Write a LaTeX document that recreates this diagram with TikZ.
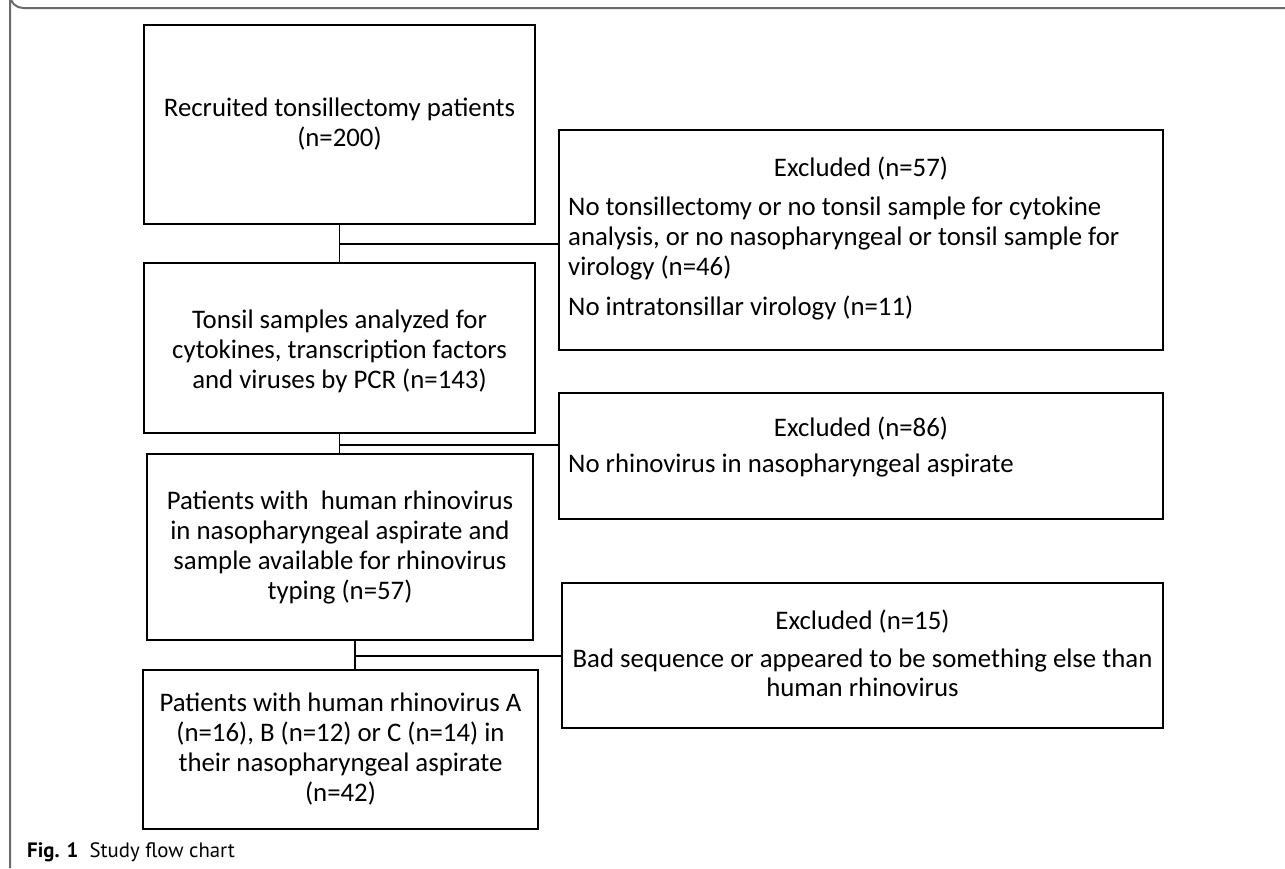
\documentclass[tikz,border=0pt]{standalone}
\usepackage{fontspec}
\setmainfont{Carlito}
\newfontfamily\capfont{PT Sans}
\begin{document}
\begin{tikzpicture}[x=1pt,y=-1pt,
  box/.style={draw=black, line width=1.7pt, inner sep=0pt},
  txt/.style={inner sep=0pt, font=\fontsize{26.8}{30}\selectfont},
  conn/.style={draw=black, line width=1.7pt},
  frame/.style={draw=black!58, line width=2pt}]
\useasboundingbox (0,0) rectangle (1285,868);
% outer frame
\draw[frame] (1285,8) -- (23,8) arc[start angle=90, end angle=180, radius=13] -- (10,868);
% left column boxes
\node[box, minimum width=391pt, minimum height=199pt] (b1) at (339.5,124.5) {};
\node[txt, align=center] at (b1.center) {Recruited tonsillectomy patients\\(n=200)};
\node[box, minimum width=391pt, minimum height=170pt] (b2) at (339.5,348) {};
\node[txt, align=center] at ([yshift=-3pt]b2.center) {Tonsil samples analyzed for\\cytokines, transcription factors\\and viruses by PCR (n=143)};
\node[box, minimum width=386pt, minimum height=186pt] (b3) at (340,547) {};
\node[txt, align=center] at (b3.center) {Patients with\ \ human rhinovirus\\in nasopharyngeal aspirate and\\sample available for rhinovirus\\typing (n=57)};
\node[box, minimum width=395pt, minimum height=159pt] (b4) at (340.5,749.5) {};
\node[txt, align=center] at (b4.center) {Patients with human rhinovirus A\\(n=16), B (n=12) or C (n=14) in\\their nasopharyngeal aspirate\\(n=42)};
% excluded boxes
\node[box, minimum width=604pt, minimum height=220pt] (e1) at (861,240) {};
\node[txt, anchor=base] at (861,176) {Excluded (n=57)};
\node[txt, anchor=base west] at (568,215) {No tonsillectomy or no tonsil sample for cytokine};
\node[txt, anchor=base west] at (568,245) {analysis, or no nasopharyngeal or tonsil sample for};
\node[txt, anchor=base west] at (568,275) {virology (n=46)};
\node[txt, anchor=base west] at (568,315) {No intratonsillar virology (n=11)};
\node[box, minimum width=604pt, minimum height=126pt] (e2) at (861,456) {};
\node[txt, anchor=base] at (861,436) {Excluded (n=86)};
\node[txt, anchor=base west] at (568,472) {No rhinovirus in nasopharyngeal aspirate};
\node[box, minimum width=601pt, minimum height=145pt] (e3) at (862.5,655.5) {};
\node[txt, anchor=base] at (862.5,629) {Excluded (n=15)};
\node[txt, anchor=base] at (862.5,667) {Bad sequence or appeared to be something else than};
\node[txt, anchor=base] at (862.5,696) {human rhinovirus};
% connectors
\coordinate (j1) at (b1.south |- 0,244);
\draw[conn] (b1.south) -- (b1.south |- b2.north);
\draw[conn] (j1) -- (j1 -| e1.west);
\coordinate (j2) at (b2.south |- 0,445);
\draw[conn] (b2.south) -- (b2.south |- b3.north);
\draw[conn] (j2) -- (j2 -| e2.west);
\coordinate (c3) at ([xshift=15pt]b3.south);
\coordinate (j3) at (c3 |- 0,656);
\draw[conn] (c3) -- (c3 |- b4.north);
\draw[conn] (j3) -- (j3 -| e3.west);
% caption
\node[anchor=base west, inner sep=0pt, font=\capfont\fontsize{20.8}{24}\selectfont] (cap) at (27,857) {\textbf{Fig. 1}\ \ Study flow chart};
\end{tikzpicture}
\end{document}
